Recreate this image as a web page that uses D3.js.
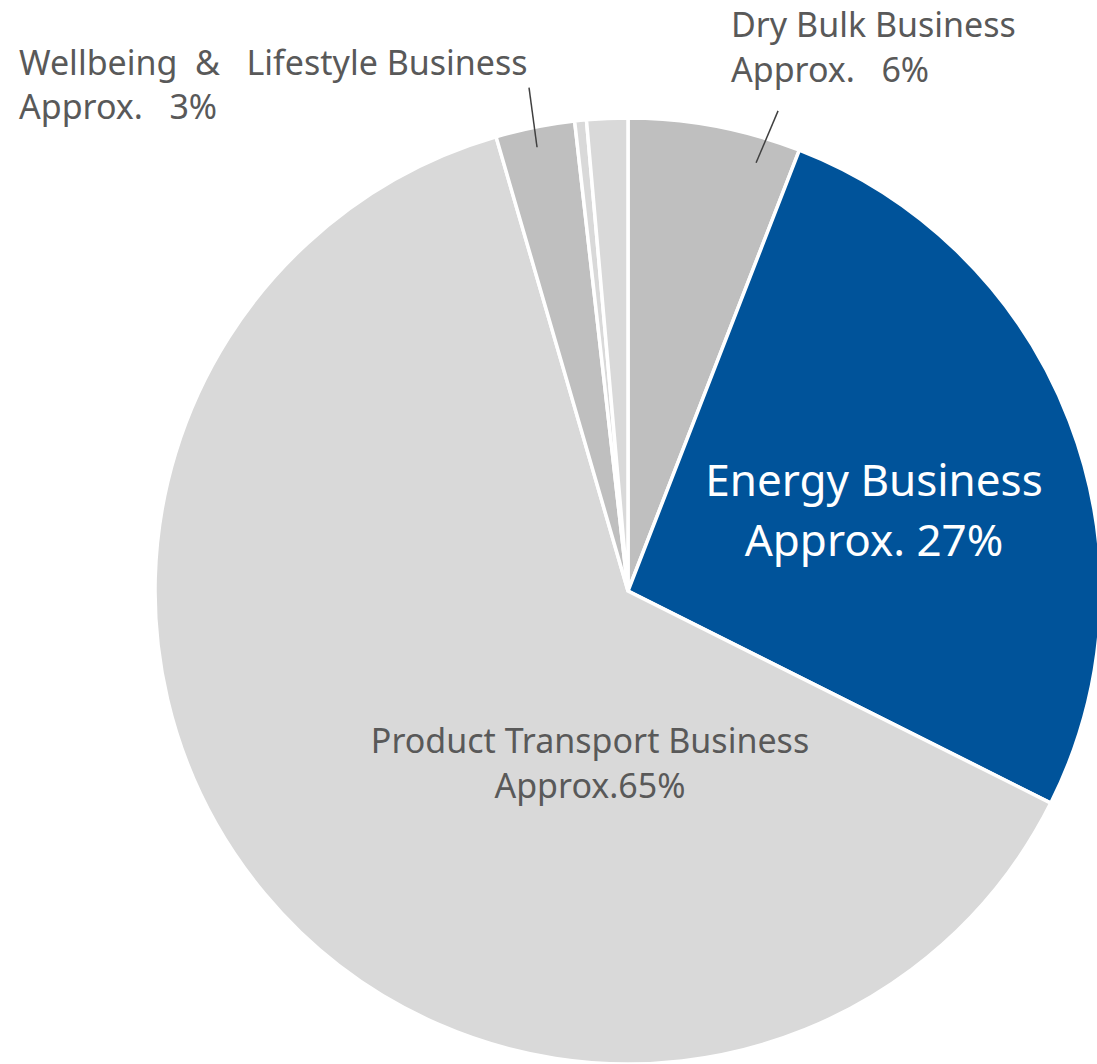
<!DOCTYPE html>
<html>
<head>
<meta charset="utf-8">
<script src="https://cdn.jsdelivr.net/npm/d3@7"></script>
<style>
  body { margin: 0; background: #fff; }
  svg text { font-family: "Noto Sans", "Open Sans", sans-serif; }
</style>
</head>
<body>
<div id="chart"></div>
<script>
// segment shares (%), clockwise from 12 o'clock
var segments = ["Dry Bulk", "Energy", "Product Transport", "Wellbeing & Lifestyle", "Other A", "Other B"];
var shares = [5.9, 26.5, 63.1, 2.7, 0.4, 1.4];
var colours = ["#bfbfbf", "#00539a", "#d9d9d9", "#bfbfbf", "#d9d9d9", "#d9d9d9"];

var labelLines = [
    ["Dry Bulk Business", "Approx.\u00a0\u00a0\u00a06%"],
    ["Energy Business", "Approx. 27%"],
    ["Product Transport Business", "Approx.65%"],
    ["Wellbeing\u00a0\u00a0&\u00a0\u00a0\u00a0Lifestyle Business", "Approx.\u00a0\u00a0\u00a03%"]
];

function init(){
    var w = 1097, h = 1064;
    var cx = 628, cy = 591, r = 473;

    var svg = d3.select("#chart").append("svg")
        .attr("width", w)
        .attr("height", h);

    var dataset = segments.map(function(s, i){ return {name: s, value: shares[i], colour: colours[i]}; });

    var pie = d3.pie().sort(null).value(function(d){ return d.value; });
    var arc = d3.arc().innerRadius(0).outerRadius(r);
    var arcs = pie(dataset);

    var g = svg.append("g").attr("transform", `translate(${cx},${cy})`);

    g.selectAll("path")
        .data(arcs)
        .enter().append("path")
        .attr("d", arc)
        .attr("fill", function(d){ return d.data.colour; })
        .attr("stroke", "#fff")
        .attr("stroke-width", 3.5)
        .attr("stroke-linejoin", "miter");

    // point at angle a (radians from top, clockwise) and radius rr
    function pt(a, rr){ return [Math.sin(a) * rr, -Math.cos(a) * rr]; }

    // leader lines: [slice index, fraction across slice, inner radius, outer radius, angle offset]
    var leaders = [[0, 0.784, 447, 503, 0.0123], [3, 0.475, 453, 513, 0.008]];
    leaders.forEach(function(l){
        var a0 = arcs[l[0]].startAngle, a1 = arcs[l[0]].endAngle;
        var a = a0 + (a1 - a0) * l[1];
        var p1 = pt(a, l[2]);
        var p2 = pt(a + l[4], l[3]);
        g.append("line")
            .attr("x1", p1[0]).attr("y1", p1[1])
            .attr("x2", p2[0]).attr("y2", p2[1])
            .attr("stroke", "#404040")
            .attr("stroke-width", 1.5);
    });

    // label placement: x, y (first baseline), anchor, size, line gap, colour
    var labelPos = [
        [731, 37, "start", 34, 45, "#595959"],
        [874, 496, "middle", 44, 60, "#ffffff"],
        [590, 753, "middle", 34, 45, "#595959"],
        [19, 75, "start", 34, 44, "#595959"]
    ];

    labelLines.forEach(function(lines, i){
        var p = labelPos[i];
        var t = svg.append("text")
            .attr("text-anchor", p[2])
            .attr("font-size", p[3])
            .attr("fill", p[5]);
        lines.forEach(function(s, j){
            t.append("tspan")
                .attr("x", p[0])
                .attr("y", p[1] + j * p[4])
                .text(s);
        });
    });
}
window.onload = init;
</script>
</body>
</html>
